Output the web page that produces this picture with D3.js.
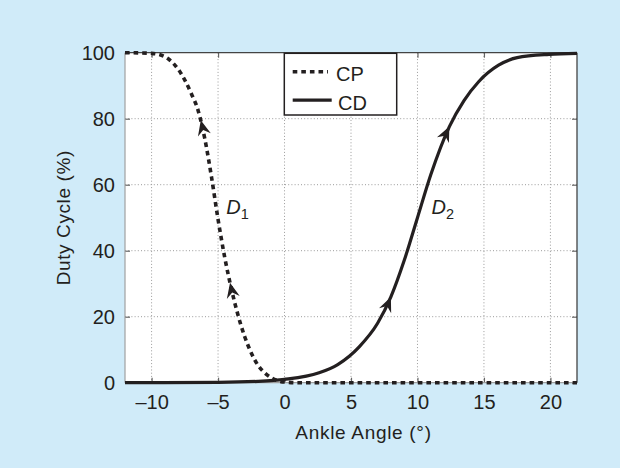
<!DOCTYPE html>
<html>
<head>
<meta charset="utf-8">
<script src="https://cdn.jsdelivr.net/npm/d3@7/dist/d3.min.js"></script>
<style>
  html, body { margin: 0; padding: 0; background: #d0ebf9; }
  svg { display: block; font-family: "Liberation Sans", Arial, Helvetica, sans-serif; }
</style>
</head>
<body>
<svg id="chart" width="620" height="468"></svg>
<script>
'use strict';

// CP curve (dotted)
const cpAngle = [-12, -10, -9, -8.5, -8, -7.5, -7, -6.5, -6, -5.5, -5, -4.5, -4, -3.5, -3, -2.5, -2, -1.5, -1, -0.5, 0, 1, 22];
const cpDuty  = [100, 99.8, 98.8, 97.3, 95, 91.7, 87.5, 82.5, 74, 62.5, 49.5, 38, 28.5, 20.5, 14, 9, 5.3, 3, 1.5, 0.6, 0.2, 0, 0];

// CD curve (solid)
const cdAngle = [-12, -5, -2, 0, 2.6, 4, 5.6, 7, 8, 9, 10, 11, 12.4, 13.5, 14.6, 16.1, 17.5, 19.9, 22];
const cdDuty  = [0, 0.1, 0.4, 1, 3, 5.5, 10.8, 18, 26, 37, 50, 63, 77.6, 85.5, 91.2, 96.2, 98.5, 99.5, 99.8];

const xTicks = [-10, -5, 0, 5, 10, 15, 20];
const yTicks = [0, 20, 40, 60, 80, 100];

// arrowheads along the curves: angle where they sit
const cpArrows = [-6.3, -4.1];
const cdArrows = [8, 12.4];

const plotLeft = 125, plotRight = 577, plotTop = 52.7, plotBottom = 382.7;

const x = d3.scaleLinear().domain([-12, 22]).range([plotLeft, plotRight]);
const y = d3.scaleLinear().domain([0, 100]).range([plotBottom, plotTop]);

const svg = d3.select('#chart');

svg.append('rect')
   .attr('x', plotLeft).attr('y', plotTop)
   .attr('width', plotRight - plotLeft).attr('height', plotBottom - plotTop)
   .attr('fill', '#fff');

// grid
const grid = svg.append('g')
   .attr('stroke', '#9a9a9a')
   .attr('stroke-width', 1)
   .attr('stroke-dasharray', '1,2.2');

grid.selectAll('.gx')
   .data(xTicks)
   .enter().append('line')
   .attr('x1', d => x(d)).attr('x2', d => x(d))
   .attr('y1', plotTop).attr('y2', plotBottom);

grid.selectAll('.gy')
   .data(yTicks.filter(d => d > 0 && d < 100))
   .enter().append('line')
   .attr('x1', plotLeft).attr('x2', plotRight)
   .attr('y1', d => y(d)).attr('y2', d => y(d));

// axes
const fmt = d => d < 0 ? '\u2013' + Math.abs(d) : String(d);

svg.append('g')
   .attr('transform', `translate(0,${plotBottom})`)
   .call(d3.axisBottom(x).tickValues(xTicks).tickFormat(fmt).tickSizeInner(-5).tickSizeOuter(0).tickPadding(12));

svg.append('g')
   .attr('transform', `translate(${plotLeft},0)`)
   .call(d3.axisLeft(y).tickValues(yTicks).tickFormat(fmt).tickSizeInner(-5).tickSizeOuter(0).tickPadding(10));

svg.append('g')
   .attr('transform', `translate(0,${plotTop})`)
   .call(d3.axisTop(x).tickValues(xTicks).tickFormat('').tickSizeInner(-5).tickSizeOuter(0));

svg.append('g')
   .attr('transform', `translate(${plotRight},0)`)
   .call(d3.axisRight(y).tickValues(yTicks).tickFormat('').tickSizeInner(-5).tickSizeOuter(0));

svg.selectAll('.domain').remove();
svg.selectAll('.tick line').attr('stroke', '#666').attr('stroke-width', 1.2);
svg.selectAll('.tick text')
   .attr('fill', '#231f20')
   .style('font-size', '20px')
   .style('font-family', '"Liberation Sans", Arial, Helvetica, sans-serif');

// frame
svg.append('line').attr('x1', plotLeft).attr('x2', plotLeft).attr('y1', plotTop).attr('y2', plotBottom)
   .attr('stroke', '#a0a0a0').attr('stroke-width', 1.2);
svg.append('line').attr('x1', plotLeft).attr('x2', plotRight).attr('y1', plotBottom).attr('y2', plotBottom)
   .attr('stroke', '#a0a0a0').attr('stroke-width', 1.2);
svg.append('line').attr('x1', plotRight).attr('x2', plotRight).attr('y1', plotTop).attr('y2', plotBottom)
   .attr('stroke', '#444').attr('stroke-width', 1.3);
svg.append('line').attr('x1', plotLeft).attr('x2', plotRight).attr('y1', plotTop).attr('y2', plotTop)
   .attr('stroke', '#444').attr('stroke-width', 1.3);

// curves
const line = d3.line()
   .x(d => x(d[0]))
   .y(d => y(d[1]))
   .curve(d3.curveMonotoneX);

const cpData = cpAngle.map((a, i) => [a, cpDuty[i]]);
const cdData = cdAngle.map((a, i) => [a, cdDuty[i]]);

const cdPath = svg.append('path')
   .datum(cdData)
   .attr('d', line)
   .attr('fill', 'none')
   .attr('stroke', '#231f20')
   .attr('stroke-width', 3.2);

const cpPath = svg.append('path')
   .datum(cpData)
   .attr('d', line)
   .attr('fill', 'none')
   .attr('stroke', '#231f20')
   .attr('stroke-width', 3.6)
   .attr('stroke-dasharray', '4.6,4');

// find the length along a path where its x reaches px
function lengthAtX(node, px) {
    const total = node.getTotalLength();
    let lo = 0, hi = total;
    for (let k = 0; k < 40; k++) {
        const mid = (lo + hi) / 2;
        const p = node.getPointAtLength(mid);
        if (p.x < px) lo = mid; else hi = mid;
    }
    return lo;
}

function drawArrow(pathSel, angle, forward) {
    const node = pathSel.node();
    const len = lengthAtX(node, x(angle));
    const p = node.getPointAtLength(len);
    const q = node.getPointAtLength(len + (forward ? 2 : -2));
    const rot = Math.atan2(q.y - p.y, q.x - p.x) * 180 / Math.PI;
    svg.append('path')
       .attr('d', 'M0,0 L-15,-6.6 L-10,0 L-15,6.6 Z')
       .attr('fill', '#231f20')
       .attr('transform', `translate(${p.x},${p.y}) rotate(${rot})`);
}

cpArrows.forEach(a => drawArrow(cpPath, a, false));
cdArrows.forEach(a => drawArrow(cdPath, a, true));

// curve labels
const curveLabels = [
    { name: 'D', sub: '1', angle: -4.38, duty: 51 },
    { name: 'D', sub: '2', angle: 11.06, duty: 51 }
];

curveLabels.forEach(l => {
    const t = svg.append('text')
       .attr('x', x(l.angle))
       .attr('y', y(l.duty))
       .attr('fill', '#231f20')
       .style('font-size', '20px');
    t.append('tspan').style('font-style', 'italic').text(l.name);
    t.append('tspan').attr('dy', 5).style('font-size', '14.5px').text(l.sub);
});

// axis titles
svg.append('text')
   .attr('x', 363.5)
   .attr('y', 438.5)
   .attr('text-anchor', 'middle')
   .attr('fill', '#231f20')
   .style('font-size', '19px')
   .style('letter-spacing', '0.7px')
   .text('Ankle Angle (\u00b0)');

svg.append('text')
   .attr('transform', `translate(70,${(plotTop + plotBottom) / 2}) rotate(-90)`)
   .attr('text-anchor', 'middle')
   .attr('fill', '#231f20')
   .style('font-size', '19px')
   .style('letter-spacing', '0.6px')
   .text('Duty Cycle (%)');

// legend
const legendItems = ['CP', 'CD'];
const legendDash = ['4.6,4', null];

const legend = svg.append('g');
legend.append('rect')
   .attr('x', 284.3).attr('y', 53.3)
   .attr('width', 112.4).attr('height', 61.7)
   .attr('fill', '#fff')
   .attr('stroke', '#231f20')
   .attr('stroke-width', 1.5);

legendItems.forEach((name, i) => {
    const ly = 71.7 + i * 28.5;
    legend.append('line')
       .attr('x1', 292.7).attr('x2', i === 0 ? 328 : 331.7)
       .attr('y1', ly).attr('y2', ly)
       .attr('stroke', '#231f20')
       .attr('stroke-width', i === 0 ? 3.6 : 3.2)
       .attr('stroke-dasharray', legendDash[i]);
    legend.append('text')
       .attr('x', i === 0 ? 336 : 338)
       .attr('y', ly + 5.5 + i * 0.5)
       .attr('dy', '0.2em')
       .attr('fill', '#231f20')
       .style('font-size', '20px')
       .text(name);
});
</script>
</body>
</html>
